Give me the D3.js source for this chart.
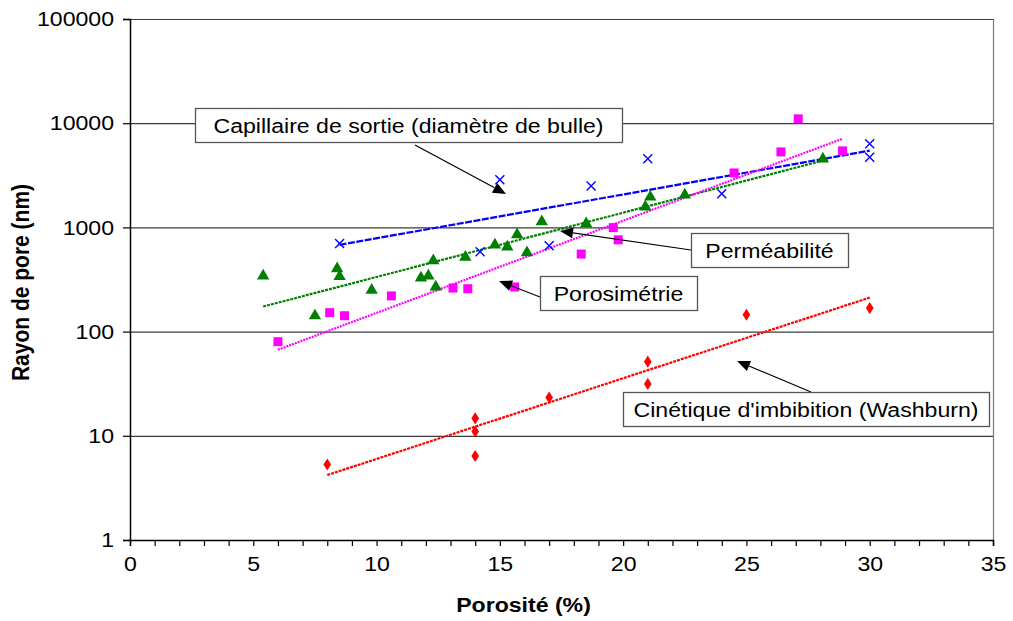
<!DOCTYPE html>
<html><head><meta charset="utf-8">
<script src="https://cdn.jsdelivr.net/npm/d3@7"></script>
<style>
body{margin:0;background:#fff;}
svg{display:block;font-family:Arial,"Liberation Sans",sans-serif;}
</style></head>
<body>
<svg id="chart" width="1013" height="621"></svg>
<script>
// ---- Data ----
const xTicks = [0,5,10,15,20,25,30,35];
const yTicks = [1,10,100,1000,10000,100000];
const xLabel = "Porosité (%)";
const yLabel = "Rayon de pore (nm)";

// Capillaire de sortie (diamètre de bulle) – blue crosses
const capX = [8.5, 15.0, 14.2, 17.0, 18.7, 21.0, 24.0, 30.0, 30.0];
const capY = [700, 2870, 585, 665, 2500, 4550, 2100, 6350, 4700];
const capTrend = [[8.5, 680], [30.0, 5450]];

// Perméabilité – green triangles
const permX = [5.4, 7.5, 8.4, 8.5, 9.8, 11.8, 12.1, 12.3, 12.4, 13.6, 14.8, 15.3, 15.7, 16.1, 16.7, 18.5, 20.9, 21.1, 22.5, 28.1];
const permY = [350, 145, 410, 345, 255, 335, 350, 490, 275, 530, 695, 665, 870, 585, 1160, 1110, 1610, 2000, 2100, 4650];
const permTrend = [[5.4, 174], [28.3, 4500]];

// Porosimétrie – magenta squares
const poroX = [6.0, 8.1, 8.7, 10.6, 13.1, 13.7, 15.6, 18.3, 19.6, 19.8, 24.5, 26.4, 27.1, 28.9];
const poroY = [80, 152, 142, 220, 262, 258, 268, 555, 995, 760, 3330, 5300, 11000, 5420];
const poroTrend = [[6.0, 67], [28.9, 7100]];

// Cinétique d'imbibition (Washburn) – red diamonds
const washX = [8.0, 14.0, 14.0, 14.0, 17.0, 21.0, 21.0, 25.0, 30.0];
const washY = [5.3, 14.7, 11.0, 6.4, 23.3, 51.5, 31.5, 145, 168];
const washTrend = [[8.0, 4.2], [30.0, 212]];

const annotTexts = ["Capillaire de sortie (diamètre de bulle)", "Perméabilité", "Porosimétrie", "Cinétique d'imbibition (Washburn)"];

// ---- Layout ----
const svg = d3.select("#chart");
const L = 130, R = 993, T = 19, B = 540;
const SX = 1.1; // horizontal stretch of text seen in the reference
const x = d3.scaleLinear().domain([0,35]).range([L,R]);
const y = d3.scaleLog().domain([1,100000]).range([B,T]);

// gridlines
svg.append("g").selectAll("line").data(yTicks.slice(1)).join("line")
  .attr("x1",L).attr("x2",R).attr("y1",d=>y(d)+0.5).attr("y2",d=>y(d)+0.5)
  .attr("stroke","#3a3a3a").attr("stroke-width",1.2);
// right border
svg.append("line").attr("x1",R+0.5).attr("x2",R+0.5).attr("y1",T).attr("y2",B)
  .attr("stroke","#777").attr("stroke-width",1.2);

// axes
const xAxis = d3.axisBottom(x).tickValues(d3.range(0,36,1)).tickSize(6)
  .tickFormat(d => xTicks.includes(d) ? d : "");
const gx = svg.append("g").attr("transform",`translate(0,${B})`).call(xAxis);
gx.select(".domain").attr("stroke","#000").attr("stroke-width",1.5);
gx.selectAll(".tick line").attr("stroke","#000").attr("stroke-width",1.2);
gx.selectAll(".tick text").attr("font-size",21).attr("dy","1.05em").attr("fill","#000")
  .attr("transform",`scale(${SX},1)`)
  .attr("font-family","Arial, 'Liberation Sans', sans-serif");

const yAxis = d3.axisLeft(y).tickValues(yTicks).tickSize(7).tickFormat(d3.format("d"));
const gy = svg.append("g").attr("transform",`translate(${L},0)`).call(yAxis);
gy.select(".domain").attr("stroke","#000").attr("stroke-width",1.5);
gy.selectAll(".tick line").attr("stroke","#000").attr("stroke-width",1.2);
gy.selectAll(".tick text").attr("font-size",21).attr("x",-14.5).attr("fill","#000")
  .attr("transform",`scale(${SX},1)`)
  .attr("font-family","Arial, 'Liberation Sans', sans-serif");

// axis titles
svg.append("text").attr("transform",`translate(${(L+R)/2-38},612) scale(${SX},1)`).attr("text-anchor","middle")
  .attr("font-weight","bold").attr("font-size",21).text(xLabel);
svg.append("text").attr("transform",`translate(29,${(T+B)/2+3}) rotate(-90) scale(1,${SX})`)
  .attr("text-anchor","middle").attr("font-weight","bold").attr("font-size",21).text(yLabel);

// trend lines
const line = d3.line().x(d=>x(d[0])).y(d=>y(d[1]));
const trends = [
  {d:capTrend, c:"#0000ff", dash:"7,1.5"},
  {d:permTrend, c:"#008000", dash:"3,1"},
  {d:poroTrend, c:"#ff00ff", dash:"2,1"},
  {d:washTrend, c:"#ff0000", dash:"3,1"}
];
trends.forEach(t=>{
  svg.append("path").attr("d",line(t.d)).attr("fill","none")
    .attr("stroke",t.c).attr("stroke-width",2.2).attr("stroke-dasharray",t.dash);
});

// markers
const zip = (a,b)=>a.map((v,i)=>[v,b[i]]);
svg.append("g").selectAll("path").data(zip(permX,permY)).join("path")
  .attr("d",d3.symbol(d3.symbolTriangle,66)())
  .attr("transform",d=>`translate(${x(d[0])},${y(d[1])+1})`).attr("fill","#008000");
svg.append("g").selectAll("rect").data(zip(poroX,poroY)).join("rect")
  .attr("x",d=>x(d[0])-4.5).attr("y",d=>y(d[1])-4.5).attr("width",9).attr("height",9)
  .attr("fill","#ff00ff");
svg.append("g").selectAll("path").data(zip(washX,washY)).join("path")
  .attr("d",d3.symbol(d3.symbolDiamond,42)())
  .attr("transform",d=>`translate(${x(d[0])},${y(d[1])}) scale(1.1,1)`).attr("fill","#ff0000");
svg.append("g").selectAll("path").data(zip(capX,capY)).join("path")
  .attr("d","M-4.5,-4.5L4.5,4.5M-4.5,4.5L4.5,-4.5")
  .attr("transform",d=>`translate(${x(d[0])},${y(d[1])})`)
  .attr("stroke","#0000ff").attr("stroke-width",1.4).attr("fill","none");

// annotations (callout boxes with arrows), layout in pixels
const annots = [
  {t:annotTexts[0], bx:195, by:108, bw:427, bh:34, sx:415, sy:145, ex:506, ey:194},
  {t:annotTexts[1], bx:691, by:233, bw:157, bh:34, sx:691, sy:250, ex:560, ey:231},
  {t:annotTexts[2], bx:540, by:276, bw:157, bh:34, sx:540, sy:297, ex:499, ey:281},
  {t:annotTexts[3], bx:623, by:392, bw:366, bh:34, sx:811, sy:392, ex:737, ey:361}
];
const ag = svg.append("g");
annots.forEach(a=>{
  const ang = Math.atan2(a.ey-a.sy, a.ex-a.sx);
  const hl = 13, hw = 5.5;
  const bxp = a.ex - hl*Math.cos(ang), byp = a.ey - hl*Math.sin(ang);
  ag.append("line").attr("x1",a.sx).attr("y1",a.sy).attr("x2",bxp).attr("y2",byp)
    .attr("stroke","#000").attr("stroke-width",1.2);
  const p1 = [bxp + hw*Math.sin(ang), byp - hw*Math.cos(ang)];
  const p2 = [bxp - hw*Math.sin(ang), byp + hw*Math.cos(ang)];
  ag.append("polygon").attr("points",[[a.ex,a.ey],p1,p2].map(p=>p.join(",")).join(" "))
    .attr("fill","#000");
  ag.append("rect").attr("x",a.bx+0.5).attr("y",a.by+0.5).attr("width",a.bw).attr("height",a.bh)
    .attr("fill","#fff").attr("stroke","#555").attr("stroke-width",1.3);
  ag.append("text").attr("transform",`translate(${a.bx+a.bw/2},${a.by+a.bh/2+7.5}) scale(${SX},1)`)
    .attr("text-anchor","middle").attr("font-size",21).attr("fill","#000").text(a.t);
});
</script>
</body></html>
